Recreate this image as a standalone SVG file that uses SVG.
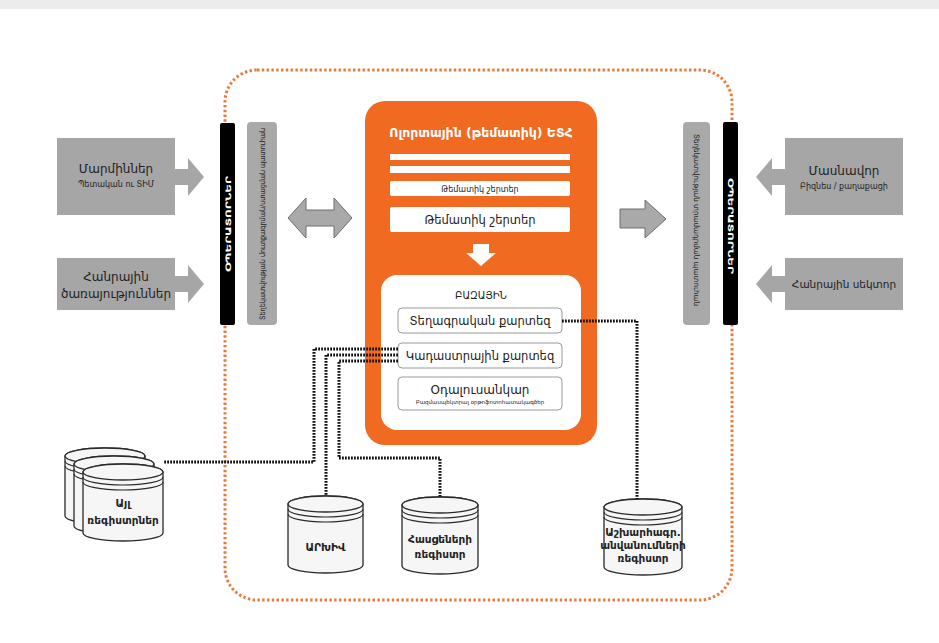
<svg xmlns="http://www.w3.org/2000/svg" width="939" height="643" viewBox="0 0 939 643">
<style>
text{font-family:"DejaVu Sans","Noto Sans",sans-serif;text-anchor:middle}
.gbox{fill:#a6a6a6}
.t13{font-size:12px;fill:#222}
.t9{font-size:8px;fill:#222}
.wt{fill:#fff}
.sub{fill:#fff;stroke:#9a9a9a;stroke-width:1}
.cyl{fill:#f6f6f6;stroke:#2a2a2a;stroke-width:1.3}
.cl{fill:none;stroke:#2a2a2a;stroke-width:1.1}
.dots{fill:none;stroke:#111;stroke-width:3;stroke-dasharray:1.8 1.2}
.ct{font-size:10.5px;font-weight:bold;fill:#222}
</style>
<rect x="0" y="0" width="939" height="643" fill="#fff"/>
<rect x="0" y="0" width="939" height="9" fill="#ececec"/>

<g id="frame">
<rect x="225" y="70" width="507" height="530" rx="32" fill="none" stroke="#ea7a3c" stroke-width="3" stroke-dasharray="2.4 2.4"/>
</g>

<g id="left-entities">
<rect class="gbox" x="57" y="138" width="118" height="77"/>
<polygon class="gbox" points="175,169 188,169 188,158 204,177 188,196 188,185 175,185"/>
<text class="t13" x="116" y="173">Մարմիններ</text>
<text class="t9" x="116" y="187">Պետական ու ՏԻՄ</text>
</g>
<g id="left-public">
<rect class="gbox" x="57" y="258" width="118" height="52"/>
<polygon class="gbox" points="175,276 188,276 188,265 204,284 188,303 188,292 175,292"/>
<text class="t13" x="116" y="281">Հանրային</text>
<text class="t13" x="116" y="298">ծառայություններ</text>
</g>

<g id="right-private">
<rect class="gbox" x="785" y="138" width="118" height="77"/>
<polygon class="gbox" points="785,169 772,169 772,158 756,177 772,196 772,185 785,185"/>
<text class="t13" x="844" y="175">Մասնավոր</text>
<text class="t9" x="844" y="189">Բիզնես / քաղաքացի</text>
</g>
<g id="right-public">
<rect class="gbox" x="785" y="258" width="118" height="52"/>
<polygon class="gbox" points="785,276 772,276 772,265 756,284 772,303 772,292 785,292"/>
<text x="844" y="288" font-size="10.5" fill="#222">Հանրային սեկտոր</text>
</g>

<g id="left-portal">
<rect x="220" y="123" width="15" height="202" rx="2" fill="#000"/>
<text transform="translate(230.5,224) rotate(-90)" font-size="7.5" fill="#fff" font-weight="bold" textLength="96" lengthAdjust="spacingAndGlyphs">ՕՊԵՐԱՏՈՐՆԵՐ</text>
</g>
<g id="left-window">
<rect x="247" y="122" width="30" height="203" rx="4" fill="#a9a9a9"/>
<text transform="translate(265,224) rotate(-90)" font-size="7.5" fill="#222" textLength="192" lengthAdjust="spacingAndGlyphs">Տեղեկատվության մուտքագրման/ստացման պատուհան</text>
</g>
<g id="right-window">
<rect x="683" y="122" width="27" height="203" rx="4" fill="#a9a9a9"/>
<text transform="translate(694,220) rotate(90)" font-size="7.5" fill="#222" textLength="172" lengthAdjust="spacingAndGlyphs">Տեղեկատվության տրամադրման պատուհան</text>
</g>
<g id="right-portal">
<rect x="723" y="122" width="15" height="203" rx="2" fill="#000"/>
<text transform="translate(728,226) rotate(90)" font-size="7.5" fill="#fff" font-weight="bold" textLength="96" lengthAdjust="spacingAndGlyphs">ՕՊԵՐԱՏՈՐՆԵՐ</text>
</g>

<g id="thematic-sdi">
<rect x="365" y="101" width="232" height="344" rx="20" fill="#f06a22"/>
<text x="481" y="137" font-size="12.5" font-weight="bold" fill="#fff">Ոլորտային (թեմատիկ) ԵՏՀ</text>
<rect class="wt" x="390" y="154" width="180" height="6"/>
<rect class="wt" x="390" y="166" width="180" height="7"/>
<rect class="wt" x="390" y="181" width="180" height="15" rx="2"/>
<text x="480" y="192" font-size="8" fill="#222">Թեմատիկ շերտեր</text>
<rect class="wt" x="390" y="207" width="180" height="25" rx="2"/>
<text x="480" y="224" font-size="11.5" fill="#222">Թեմատիկ շերտեր</text>
<polygon class="wt" points="473,244 489,244 489,253 496,253 481,266 466,253 473,253"/>
</g>

<g id="base">
<rect x="381" y="275" width="200" height="155" rx="16" fill="#fff"/>
<text x="481" y="299" font-size="10" fill="#222">ԲԱԶԱՅԻՆ</text>
</g>
<g id="topo-map">
<rect class="sub" x="398" y="308" width="164" height="25" rx="4"/>
<text x="480" y="325" font-size="11.5" fill="#222">Տեղագրական քարտեզ</text>
</g>
<g id="cadastre-map">
<rect class="sub" x="398" y="343" width="164" height="25" rx="4"/>
<text x="480" y="360" font-size="11.5" fill="#222">Կադաստրային քարտեզ</text>
</g>
<g id="ortho">
<rect class="sub" x="398" y="377" width="164" height="33" rx="4"/>
<text x="480" y="394" font-size="12" fill="#222">Օդալուսանկար</text>
<text x="480" y="404" font-size="5.5" fill="#222">Բազմասպեկտրալ օրթոֆոտոհատակագծեր</text>
</g>

<g id="other-registers">
<path class="cyl" d="M65,456 L65,516 A40,8 0 0 0 145,516 L145,456 A40,8 0 0 0 65,456 Z"/>
<ellipse class="cyl" cx="105" cy="456" rx="40" ry="8"/>
<path class="cl" d="M65,461 A40,8 0 0 0 145,461 M65,466 A40,8 0 0 0 145,466"/>
<path class="cyl" d="M74,464 L74,526 A40,8 0 0 0 154,526 L154,464 A40,8 0 0 0 74,464 Z"/>
<ellipse class="cyl" cx="114" cy="464" rx="40" ry="8"/>
<path class="cl" d="M74,469 A40,8 0 0 0 154,469 M74,474 A40,8 0 0 0 154,474"/>
<path class="cyl" d="M83,472 L83,533 A40,8 0 0 0 163,533 L163,472 A40,8 0 0 0 83,472 Z"/>
<ellipse class="cyl" cx="123" cy="472" rx="40" ry="8"/>
<path class="cl" d="M83,477 A40,8 0 0 0 163,477 M83,482 A40,8 0 0 0 163,482"/>
<text class="ct" x="123" y="507">Այլ</text>
<text class="ct" x="123" y="524">ռեգիստրներ</text>
</g>

<g id="archive">
<path class="cyl" d="M288,504 L288,565 A37.5,8 0 0 0 363,565 L363,504 A37.5,8 0 0 0 288,504 Z"/>
<ellipse class="cyl" cx="325.5" cy="504" rx="37.5" ry="8"/>
<path class="cl" d="M288,509 A37.5,8 0 0 0 363,509 M288,514 A37.5,8 0 0 0 363,514"/>
<text class="ct" x="325.5" y="551">ԱՐԽԻՎ</text>
</g>

<g id="address-register">
<path class="cyl" d="M402,505 L402,566 A38,8 0 0 0 478,566 L478,505 A38,8 0 0 0 402,505 Z"/>
<ellipse class="cyl" cx="440" cy="505" rx="38" ry="8"/>
<path class="cl" d="M402,510 A38,8 0 0 0 478,510 M402,515 A38,8 0 0 0 478,515"/>
<text class="ct" x="440" y="543">Հասցեների</text>
<text class="ct" x="440" y="558">ռեգիստր</text>
</g>

<g id="geonames-register">
<path class="cyl" d="M604,507 L604,567 A39,8 0 0 0 682,567 L682,507 A39,8 0 0 0 604,507 Z"/>
<ellipse class="cyl" cx="643" cy="507" rx="39" ry="8"/>
<path class="cl" d="M604,512 A39,8 0 0 0 682,512 M604,517 A39,8 0 0 0 682,517"/>
<text class="ct" x="643" y="536" font-size="9.5">Աշխարհագր.</text>
<text class="ct" x="643" y="549" font-size="9.5">անվանումների</text>
<text class="ct" x="643" y="562" font-size="9.5">ռեգիստր</text>
</g>

<g id="connectors">
<polyline class="dots" points="398,349 314,349 314,462 163,462"/>
<polyline class="dots" points="398,355 326,355 326,496"/>
<polyline class="dots" points="398,361 339,361 339,458 440,458 440,497"/>
<polyline class="dots" points="562,321 637,321 637,499"/>
<polygon points="288,218 306,198 306,210 334,210 334,198 352,218 334,238 334,226 306,226 306,238" fill="#a9a9a9" stroke="#6e6e6e" stroke-width="1"/>
<polygon points="620,209 645,209 645,200 666,219 645,238 645,228 620,228" fill="#a9a9a9" stroke="#6e6e6e" stroke-width="1"/>
</g>
</svg>
